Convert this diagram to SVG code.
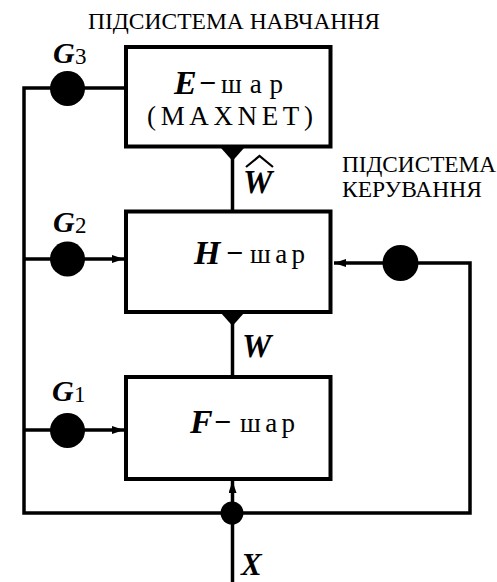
<svg xmlns="http://www.w3.org/2000/svg" width="497" height="582" viewBox="0 0 497 582">
<defs>
<marker id="arr" viewBox="0 0 12 8" refX="12" refY="4" markerWidth="12" markerHeight="8" markerUnits="userSpaceOnUse" orient="auto">
<path d="M0,0 L12,4 L0,8 Z" fill="#000"/>
</marker>
</defs>
<style>
.box{fill:#fff;stroke:#000;stroke-width:4}
.ln{fill:none;stroke:#000;stroke-width:3.5}
.dot{fill:#000}
text{font-family:'Liberation Serif','DejaVu Serif',serif;fill:#000}
.bi{font-weight:bold;font-style:italic}
</style>
<rect width="497" height="582" fill="#fff"/>
<g id="connectors">
<path class="ln" d="M124,88 H24 V513 H470 V263 H334" marker-end="url(#arr)"/>
<path class="ln" d="M24,259 H124" marker-end="url(#arr)"/>
<path class="ln" d="M24,430 H124" marker-end="url(#arr)"/>
<path class="ln" d="M232.5,582 V481" marker-end="url(#arr)"/>
<path class="ln" d="M232.5,147 V211"/>
<path class="ln" d="M232.5,312 V377"/>
<path class="dot" d="M221,148 L244,148 L232.5,161 Z"/>
<path class="dot" d="M221,313 L244,313 L232.5,326 Z"/>
<circle class="dot" cx="232" cy="513" r="11.5"/>
</g>
<g id="E" font-family="Liberation Serif, serif">
<rect class="box" x="126" y="47" width="204.5" height="99.5"/>
<text class="bi" x="174" y="94" font-size="34">E</text>
<text x="199" y="93" font-size="30" font-weight="bold">−</text>
<text x="221" y="93" font-size="27" textLength="62" lengthAdjust="spacing">шар</text>
<text x="147" y="125" font-size="27" textLength="166" lengthAdjust="spacing">(MAXNET)</text>
</g>
<g id="H">
<rect class="box" x="126" y="211.5" width="204.5" height="100.5"/>
<text class="bi" x="194" y="264" font-size="34">H</text>
<text x="226" y="263" font-size="30" font-weight="bold">−</text>
<text x="250" y="263" font-size="27" textLength="55" lengthAdjust="spacing">шар</text>
</g>
<g id="F">
<rect class="box" x="126" y="377" width="204.5" height="102"/>
<text class="bi" x="190" y="433" font-size="34">F</text>
<text x="214" y="432" font-size="30" font-weight="bold">−</text>
<text x="240" y="432" font-size="27" textLength="55" lengthAdjust="spacing">шар</text>
</g>
<g id="G3">
<circle class="dot" cx="67.5" cy="88.5" r="17.5"/>
<text class="bi" x="53" y="63" font-size="30">G</text>
<text x="75" y="64" font-size="23">3</text>
</g>
<g id="G2">
<circle class="dot" cx="67.5" cy="259" r="17.5"/>
<text class="bi" x="53" y="232" font-size="30">G</text>
<text x="75" y="233" font-size="23">2</text>
</g>
<g id="G1">
<circle class="dot" cx="67.5" cy="430.5" r="17.5"/>
<text class="bi" x="52" y="401" font-size="30">G</text>
<text x="74" y="402" font-size="23">1</text>
</g>
<g id="R">
<circle class="dot" cx="400.5" cy="263" r="18"/>
</g>
<g id="labels">
<text x="88" y="29" font-size="23" textLength="292" lengthAdjust="spacingAndGlyphs">ПІДСИСТЕМА НАВЧАННЯ</text>
<text x="342" y="172" font-size="23" textLength="154" lengthAdjust="spacingAndGlyphs">ПІДСИСТЕМА</text>
<text x="342" y="197" font-size="23" textLength="140" lengthAdjust="spacingAndGlyphs">КЕРУВАННЯ</text>
<text class="bi" x="243" y="193" font-size="33">W</text>
<polyline points="246,167 259.5,156 273,167" fill="none" stroke="#000" stroke-width="2.2"/>
<text class="bi" x="242" y="357" font-size="33">W</text>
<text class="bi" x="241" y="575" font-size="31">X</text>
</g>
</svg>
